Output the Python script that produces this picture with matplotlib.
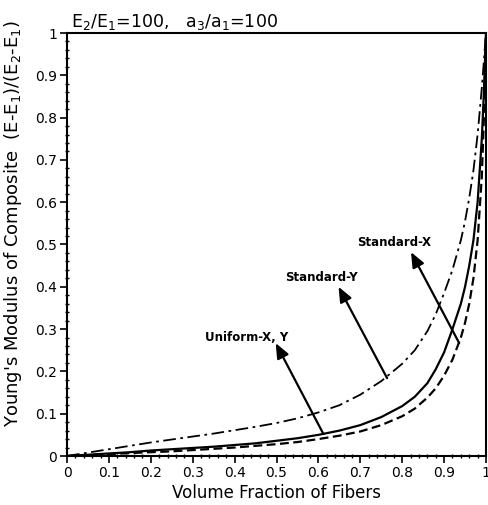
import numpy as np
import matplotlib
matplotlib.use("Agg")
import matplotlib.pyplot as plt
from matplotlib.ticker import MultipleLocator

# Standard-Y (dash-dot)
std_y_x = [0, 0.05, 0.1, 0.15, 0.2, 0.25, 0.3, 0.35, 0.4, 0.45, 0.5, 0.55, 0.6, 0.65, 0.7,
           0.75, 0.8, 0.83, 0.86, 0.88, 0.9, 0.92, 0.94, 0.95, 0.96, 0.97, 0.98, 0.99, 1.0]
std_y_v = [0, 0.008, 0.016, 0.024, 0.032, 0.039, 0.046, 0.053, 0.061, 0.069, 0.078, 0.089,
           0.103, 0.120, 0.145, 0.177, 0.218, 0.25, 0.295, 0.335, 0.385, 0.44, 0.51, 0.555,
           0.61, 0.675, 0.76, 0.87, 1.0]

# Uniform-X, Y (solid)
uni_x = [0, 0.05, 0.1, 0.15, 0.2, 0.25, 0.3, 0.35, 0.4, 0.45, 0.5, 0.55, 0.6, 0.65, 0.7,
         0.75, 0.8, 0.83, 0.86, 0.88, 0.9, 0.92, 0.94, 0.95, 0.96, 0.97, 0.98, 0.99, 0.995, 1.0]
uni_v = [0, 0.003, 0.006, 0.009, 0.013, 0.016, 0.019, 0.022, 0.026, 0.030, 0.036, 0.042,
         0.050, 0.060, 0.073, 0.092, 0.118, 0.140, 0.172, 0.205, 0.245, 0.30, 0.36, 0.40,
         0.45, 0.51, 0.60, 0.75, 0.86, 1.0]

# Standard-X (dashed)
std_x_x = [0, 0.05, 0.1, 0.15, 0.2, 0.25, 0.3, 0.35, 0.4, 0.45, 0.5, 0.55, 0.6, 0.65, 0.7,
           0.75, 0.8, 0.83, 0.86, 0.88, 0.9, 0.92, 0.94, 0.95, 0.96, 0.97, 0.98, 0.99, 0.995, 1.0]
std_x_v = [0, 0.002, 0.004, 0.007, 0.009, 0.011, 0.014, 0.017, 0.020, 0.024, 0.028, 0.033,
           0.040, 0.048, 0.058, 0.073, 0.094, 0.112, 0.138, 0.16, 0.19, 0.228, 0.28, 0.315,
           0.36, 0.42, 0.51, 0.66, 0.80, 1.0]

# labels: text position, arrow head, arrow tail
labels = ["Uniform-X, Y", "Standard-Y", "Standard-X"]
label_pos = [(0.429, 0.281), (0.607, 0.423), (0.781, 0.504)]
arrow_head = [(0.498, 0.267), (0.648, 0.40), (0.821, 0.482)]
arrow_tail = [(0.612, 0.052), (0.764, 0.184), (0.936, 0.267)]

plt.rcParams['font.family'] = ['DejaVu Sans']

fig = plt.figure(figsize=(4.88, 5.05), dpi=100)
ax = fig.add_axes([67 / 488, 49 / 505, 419 / 488, 423 / 505])

ax.plot(std_y_x, std_y_v, color='black', lw=1.3, linestyle=(0, (7, 2.5, 1.5, 2.5)))
ax.plot(uni_x, uni_v, color='black', lw=1.6, linestyle='-')
ax.plot(std_x_x, std_x_v, color='black', lw=1.6, linestyle=(0, (4, 2)))

for txt, p, h, t in zip(labels, label_pos, arrow_head, arrow_tail):
    ax.text(p[0], p[1], txt, ha='center', va='center', fontsize=8.5, fontweight='bold')
    ax.annotate('', xy=h, xytext=t,
                arrowprops=dict(arrowstyle='-|>,head_length=0.6,head_width=0.25',
                                mutation_scale=15, lw=1.6, color='black',
                                shrinkA=0, shrinkB=0))

ax.set_xlim(0, 1)
ax.set_ylim(0, 1)
ax.xaxis.set_major_locator(MultipleLocator(0.1))
ax.yaxis.set_major_locator(MultipleLocator(0.1))
ax.xaxis.set_minor_locator(MultipleLocator(0.02))
ax.yaxis.set_minor_locator(MultipleLocator(0.02))
fmt = plt.FuncFormatter(lambda v, p: '0' if v == 0 else ('1' if v == 1 else f'{v:.1f}'))
ax.xaxis.set_major_formatter(fmt)
ax.yaxis.set_major_formatter(fmt)
ax.tick_params(which='major', direction='out', length=5, width=1.2, labelsize=10, pad=2)
ax.tick_params(which='minor', direction='inout', length=3, width=1)
for s in ax.spines.values():
    s.set_linewidth(1.5)

ax.set_xlabel('Volume Fraction of Fibers', fontsize=12, labelpad=3)
ax.set_ylabel("Young's Modulus of Composite  (E-E$_\\mathregular{1}$)/(E$_\\mathregular{2}$-E$_\\mathregular{1}$)",
              fontsize=13)
ax.yaxis.set_label_coords(-0.103, 0.55)

fig.text(71 / 488, 1 - 27 / 505,
         "E$_\\mathregular{2}$/E$_\\mathregular{1}$=100,   a$_\\mathregular{3}$/a$_\\mathregular{1}$=100",
         fontsize=12.5, va='baseline', ha='left')

fig.savefig('out.png', dpi=100)
